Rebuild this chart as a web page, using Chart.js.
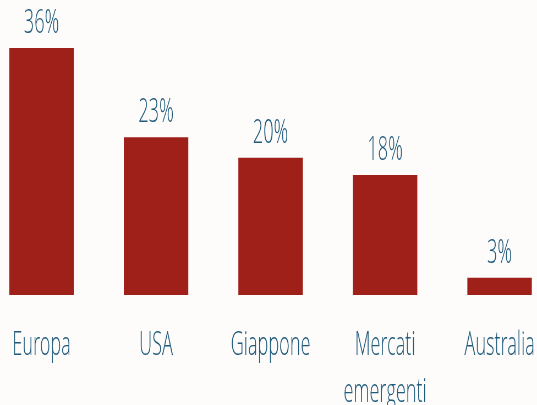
<!DOCTYPE html>
<html>
<head>
<meta charset="utf-8">
<script src="https://cdn.jsdelivr.net/npm/chart.js@4.4.1/dist/chart.umd.min.js"></script>
<style>
    html, body { margin: 0; padding: 0; overflow: hidden; background: #fdfcfb; }
    /* the chart is laid out wide and squeezed horizontally, to get the condensed look of the lettering */
    #wrap { width: 976px; height: 405px; transform: scaleX(0.5502); transform-origin: 0 0; }
</style>
</head>
<body>
<div id="wrap"><canvas id="allocChart"></canvas></div>
<script>
const regions = ['Europa', 'USA', 'Giappone', ['Mercati', 'emergenti'], 'Australia'];
const shares = [36, 23, 20, 17.5, 2.5];
const shareLabels = ['36%', '23%', '20%', '18%', '3%'];

const textColor = '#215b7c';
const barColor = '#9e2019';
const fontFamily = "'Open Sans Light', 'Open Sans', sans-serif";

// percentages written above each bar
const barLabels = {
    id: 'barLabels',
    afterDatasetsDraw(chart) {
        const ctx = chart.ctx;
        const meta = chart.getDatasetMeta(0);
        ctx.save();
        ctx.fillStyle = textColor;
        ctx.font = '300 33px ' + fontFamily;
        ctx.textAlign = 'center';
        ctx.textBaseline = 'alphabetic';
        meta.data.forEach(function (bar, i) {
            ctx.fillText(shareLabels[i], bar.x, bar.y - 15);
        });
        ctx.restore();
    }
};

document.addEventListener('DOMContentLoaded', function () {
    const ctx = document.getElementById('allocChart').getContext('2d');
    new Chart(ctx, {
        type: 'bar',
        data: {
            labels: regions,
            datasets: [{
                data: shares,
                backgroundColor: barColor,
                borderWidth: 0,
                barPercentage: 0.563,
                categoryPercentage: 1,
                clip: false
            }]
        },
        options: {
            responsive: true,
            maintainAspectRatio: false,
            animation: false,
            layout: {
                padding: { left: 75.5, right: 68, top: 0, bottom: 0 }
            },
            plugins: {
                legend: { display: false },
                tooltip: { enabled: false }
            },
            scales: {
                x: {
                    offset: false,
                    // invisible tick marks only push the labels down
                    grid: { display: false, drawTicks: true, tickLength: 28 },
                    border: { display: false },
                    ticks: {
                        color: textColor,
                        padding: 0,
                        maxRotation: 0,
                        autoSkip: false,
                        font: { family: fontFamily, size: 33, weight: '300', lineHeight: 1.42 }
                    },
                    afterFit: function (axis) { axis.height = 110; }
                },
                y: {
                    display: false,
                    min: 0,
                    max: 43
                }
            }
        },
        plugins: [barLabels]
    });
});
</script>
</body>
</html>
